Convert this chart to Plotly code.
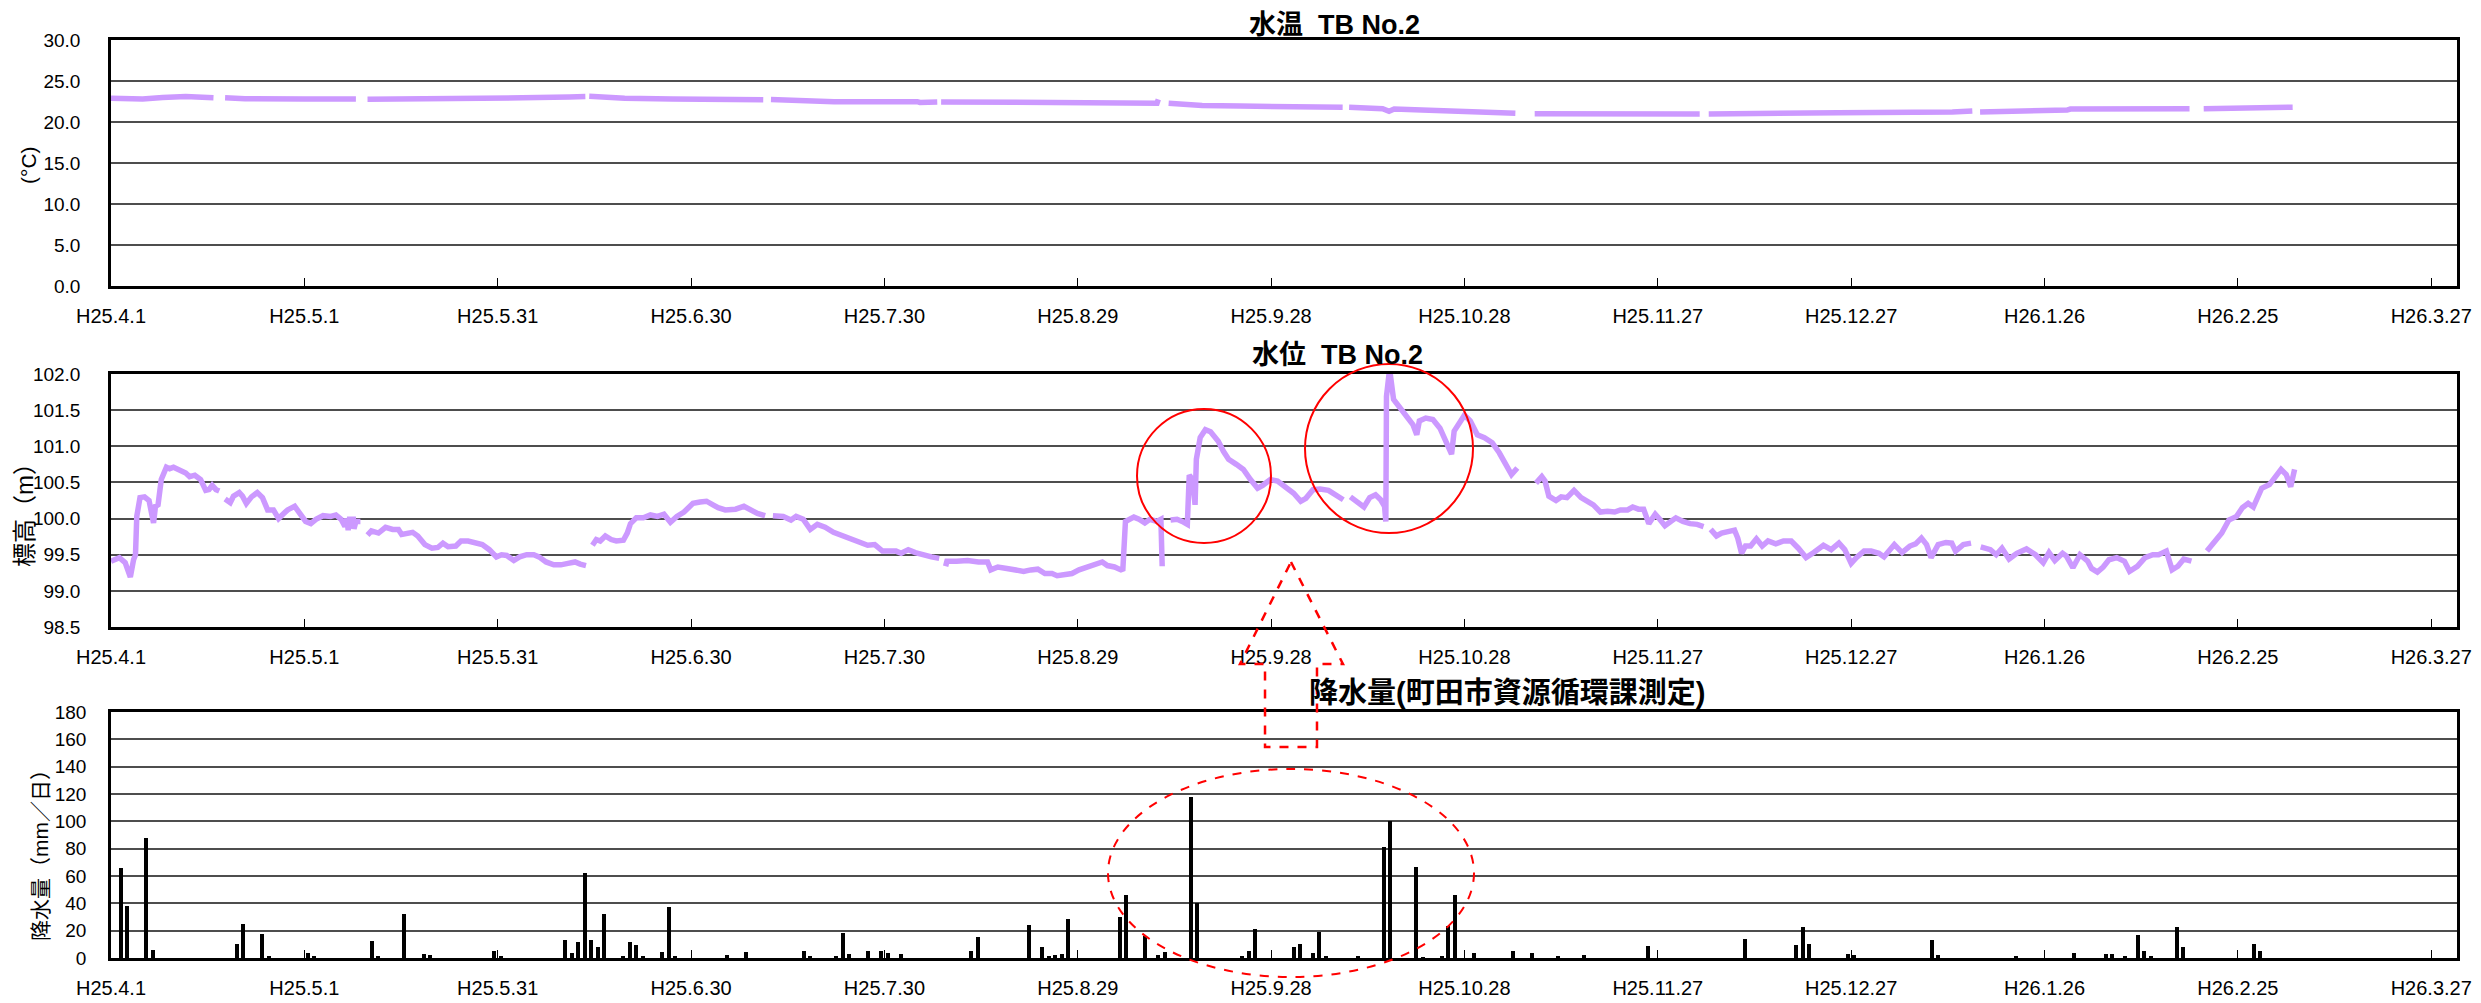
import pandas as pd
import plotly.graph_objects as go

# ---------------------------------------------------------------- data
START = pd.Timestamp("2013-04-01")

TICK_DATES = ["2013-04-01", "2013-05-01", "2013-05-31", "2013-06-30", "2013-07-30",
              "2013-08-29", "2013-09-28", "2013-10-28", "2013-11-27", "2013-12-27",
              "2014-01-26", "2014-02-25", "2014-03-27"]
TICK_TEXT = ["H25.4.1", "H25.5.1", "H25.5.31", "H25.6.30", "H25.7.30", "H25.8.29",
             "H25.9.28", "H25.10.28", "H25.11.27", "H25.12.27", "H26.1.26",
             "H26.2.25", "H26.3.27"]

# water temperature (days since H25.4.1, deg C); None = logger gap
TEMP_DAY = [0, 2, 4.9, 8, 11.6, 15.9, 16.8,
            17.7, 20.8, 30, 38.0, 38.9,
            39.8, 56.4, 63.8, 71.1, 73.6, 73.9,
            74.2, 76.5, 79.7, 87.1, 97.5, 98.1, 101.2, 101.8,
            102.4, 106.7, 112.2, 125.1, 125.5, 128.2, 128.5,
            128.8, 149.7, 150.3, 162.3, 162.5, 163.3,
            164.1, 166.8, 169.3, 175.2, 182.5, 191.1, 191.6,
            192.1, 197.3, 198.3, 199.1, 203.4, 208.3, 212.0, 215.7, 217.9, 219.4,
            220.9, 246.5, 247.2,
            247.9, 267.3, 268.0, 285.7, 288.8, 289.4,
            290.0, 294.9, 295.5, 303.5, 304.0, 313.3, 314.0, 322.5, 323.6,
            324.7, 331.1, 332.0, 338.5]
TEMP_C = [22.9, 22.85, 22.8, 23.0, 23.1, 22.95, None,
          22.95, 22.85, 22.82, 22.8, None,
          22.78, 22.82, 22.95, 23.05, 23.1, None,
          23.13, 23.0, 22.9, 22.82, 22.8, 22.7, 22.7, None,
          22.75, 22.6, 22.48, 22.48, 22.38, 22.45, None,
          22.45, 22.45, 22.35, 22.3, 22.75, None,
          22.3, 22.15, 22.0, 21.95, 21.87, 21.79, None,
          21.79, 21.63, 21.3, 21.58, 21.46, 21.34, 21.22, 21.06, 21.06, None,
          21.02, 20.98, None,
          20.98, 20.98, 21.14, 21.22, 21.34, None,
          21.22, 21.26, 21.38, 21.46, 21.58, 21.58, 21.67, 21.63, None,
          21.63, 21.65, 21.75, 21.8]

# water level (days since H25.4.1, elevation m); None = logger gap
LEVEL_DAY = [0.0, 1.3, 2.2, 3.0, 3.5, 3.8, 4.0, 4.5, 5.2, 5.9, 6.6, 6.9, 7.3, 7.8, 8.6,
             9.1, 9.7, 10.5, 11.6, 12.2, 13.0, 13.9, 14.7, 15.2, 15.7, 16.3, 16.8, 17.2,
             17.7, 18.5, 19.0, 19.9, 20.4, 21.0, 21.8, 22.7, 23.5, 24.3, 25.2, 26.0, 26.8,
             27.4, 28.5, 29.3, 30.2, 31.0, 31.8, 32.9, 34.1, 34.9, 35.7, 36.3, 36.6, 36.8,
             37.0, 37.6, 37.7, 38.0, 38.7, 39.2,
             39.8, 40.4, 41.5, 42.6, 43.7, 44.6, 45.1, 45.9, 46.8, 47.6, 48.7, 49.8, 50.7,
             51.5, 52.3, 53.5, 54.3, 55.4, 56.5, 57.6, 58.7, 59.8, 60.6, 61.4, 62.5, 63.4,
             64.5, 65.6, 66.4, 67.5, 68.7, 69.8, 70.9, 72.0, 72.8, 73.7, 74.2,
             74.7, 75.3, 75.9, 76.7, 77.6, 78.4, 79.5, 80.1, 80.6, 81.5, 82.6, 83.7, 84.8,
             85.8, 86.8, 87.8, 88.9, 89.7, 90.3, 91.4, 92.4, 93.4, 94.2, 95.3, 96.1, 96.9,
             98.2, 99.2, 100.3, 101.5, 102.1,
             102.7, 104.3, 105.5, 106.3, 107.4, 108.5, 109.6, 110.8, 112.1, 113.5, 114.9,
             116.3, 117.4, 118.5, 119.7, 120.7, 121.8, 122.6, 123.7, 124.8, 126.2, 127.3,
             128.5, 129.0,
             129.5, 129.7, 131.2, 132.9, 134.6, 136.0, 136.5, 137.6, 139.0, 140.4, 141.6,
             142.7, 143.8, 144.9, 146.0, 146.8, 147.9, 149.1, 150.2, 151.3, 152.4, 153.8,
             154.6, 155.7, 156.7, 157.0, 157.4, 157.9, 158.7, 159.5, 160.4, 161.2, 162.3,
             162.9, 163.1, 163.7,
             164.4, 165.4, 166.2, 167.0, 167.3, 167.8, 168.2, 168.4, 169.0, 169.8, 170.6,
             171.8, 172.6, 173.4, 174.6, 175.7, 176.8, 177.9, 178.7, 179.9, 181.0, 182.3,
             183.5, 184.6, 185.4, 186.5, 187.6, 188.9, 190.0, 191.2, 191.8,
             192.3, 193.4, 194.4, 195.3, 196.2, 197.0, 197.6, 197.8, 197.9, 198.3, 198.5,
             199.0, 199.8, 200.9, 202.0, 202.6, 203.0, 204.0, 205.1, 206.2, 207.3, 208.0,
             208.4, 209.2, 210.0, 210.9, 212.0, 213.1, 214.3, 215.4, 216.5, 217.3, 218.2,
             219.6,
             221.1, 222.0, 222.5, 223.1, 224.2, 225.0, 225.9, 227.0, 228.1, 229.2, 230.0,
             231.1, 232.2, 233.3, 234.2, 235.3, 236.1, 237.0, 237.8, 238.6, 239.6, 240.3,
             241.1, 242.0, 242.8, 243.9, 245.0, 246.1, 247.1, 247.6,
             248.2, 249.1, 249.9, 251.0, 251.9, 252.4, 253.0, 253.6, 254.4, 255.3, 256.2,
             257.1, 258.3, 259.5, 260.7, 261.8, 263.0, 264.2, 265.7, 266.9, 268.1, 269.0,
             270.0, 270.8, 272.0, 273.1, 274.3, 275.1, 276.7, 277.9, 279.1, 280.0, 280.9,
             281.7, 282.4, 283.5, 284.7, 285.6, 286.2, 287.4, 288.6, 289.3,
             290.1, 291.6, 292.5, 293.4, 294.5, 295.7, 297.2, 298.6, 299.8, 300.7, 301.6,
             302.8, 303.4, 304.4, 305.5, 306.7, 307.3, 308.2, 309.1, 310.0, 311.2, 312.4,
             313.2, 314.4, 315.6, 316.8, 317.7, 318.9, 319.8, 320.7, 321.6, 322.8, 324.0,
             325.2, 326.3, 327.5, 328.6, 329.8, 330.7, 331.6, 332.4, 332.8, 333.7, 334.9,
             335.8, 336.7, 337.5, 338.2, 338.8]
LEVEL_M = [99.41, 99.46, 99.39, 99.19, 99.43, 99.50, 100.03, 100.29, 100.30, 100.25, 99.94,
           100.17, 100.19, 100.54, 100.71, 100.69, 100.71, 100.68, 100.63, 100.58, 100.60,
           100.54, 100.39, 100.40, 100.46, 100.40, 100.38, None,
           100.27, 100.22, 100.31, 100.36, 100.31, 100.21, 100.30, 100.36, 100.29, 100.12,
           100.12, 100.00, 100.07, 100.12, 100.17, 100.08, 99.96, 99.93, 99.99, 100.04,
           100.03, 100.05, 99.99, 99.89, 100.00, 99.84, 99.99, 99.99, 99.86, 99.96, 99.96,
           None,
           99.77, 99.83, 99.80, 99.88, 99.85, 99.85, 99.78, 99.79, 99.81, 99.76, 99.64,
           99.59, 99.60, 99.66, 99.61, 99.62, 99.69, 99.69, 99.67, 99.64, 99.57, 99.47,
           99.50, 99.49, 99.42, 99.47, 99.50, 99.50, 99.47, 99.40, 99.36, 99.36, 99.38,
           99.40, 99.37, 99.35, None,
           99.63, 99.71, 99.69, 99.76, 99.71, 99.69, 99.70, 99.80, 99.93, 100.01, 100.01,
           100.05, 100.03, 100.06, 99.95, 100.03, 100.09, 100.15, 100.21, 100.23, 100.24,
           100.19, 100.15, 100.12, 100.13, 100.13, 100.17, 100.12, 100.07, 100.04, None,
           100.04, 100.03, 99.98, 100.03, 99.99, 99.85, 99.92, 99.88, 99.81, 99.76, 99.70,
           99.67, 99.63, 99.64, 99.55, 99.55, 99.55, 99.52, 99.57, 99.53, 99.49, 99.47,
           99.45, None,
           99.34, 99.41, 99.41, 99.42, 99.40, 99.40, 99.29, 99.33, 99.31, 99.29, 99.27,
           99.29, 99.30, 99.24, 99.24, 99.21, 99.22, 99.24, 99.29, 99.32, 99.36, 99.40,
           99.35, 99.33, 99.29, 99.30, 99.96, 99.99, 100.02, 99.99, 99.94, 99.99, 99.96,
           99.99, 99.34, None,
           99.98, 99.99, 99.96, 99.92, 100.60, 100.54, 100.19, 100.82, 101.12, 101.23,
           101.20, 101.07, 100.93, 100.82, 100.75, 100.68, 100.54, 100.42, 100.46, 100.54,
           100.52, 100.44, 100.35, 100.24, 100.28, 100.40, 100.41, 100.39, 100.33, 100.26,
           None,
           100.30, 100.22, 100.16, 100.29, 100.33, 100.26, 100.17, 99.96, 101.69, 102.00,
           101.99, 101.65, 101.55, 101.44, 101.30, 101.16, 101.35, 101.39, 101.37, 101.25,
           101.05, 100.89, 101.21, 101.32, 101.43, 101.35, 101.16, 101.12, 101.05, 100.91,
           100.72, 100.61, 100.70, None,
           100.49, 100.58, 100.52, 100.31, 100.25, 100.30, 100.29, 100.39, 100.29, 100.24,
           100.19, 100.09, 100.10, 100.09, 100.12, 100.12, 100.16, 100.13, 100.13, 99.93,
           100.06, 99.99, 99.90, 99.96, 100.01, 99.96, 99.93, 99.92, 99.89, None,
           99.85, 99.76, 99.80, 99.82, 99.84, 99.73, 99.52, 99.62, 99.62, 99.72, 99.62,
           99.69, 99.65, 99.69, 99.69, 99.59, 99.46, 99.53, 99.63, 99.57, 99.66, 99.57,
           99.38, 99.46, 99.55, 99.55, 99.52, 99.47, 99.64, 99.53, 99.62, 99.65, 99.73,
           99.64, 99.46, 99.64, 99.67, 99.66, 99.55, 99.64, 99.66, None,
           99.61, 99.57, 99.50, 99.59, 99.44, 99.52, 99.58, 99.50, 99.39, 99.53, 99.42,
           99.52, 99.48, 99.32, 99.50, 99.41, 99.31, 99.26, 99.33, 99.43, 99.46, 99.41,
           99.27, 99.34, 99.46, 99.50, 99.50, 99.55, 99.29, 99.34, 99.44, 99.41, None,
           99.55, 99.66, 99.80, 99.98, 100.03, 100.15, 100.21, 100.16, 100.24, 100.42,
           100.47, 100.59, 100.68, 100.61, 100.44, 100.68]

# daily precipitation (day index since H25.4.1, mm/day)
RAIN_DAY = [1, 2, 5, 6, 19, 20, 23, 24, 30, 31, 40, 41, 45, 48, 49, 59, 60,
            70, 71, 72, 73, 74, 75, 76, 79, 80, 81, 82, 85, 86, 87, 95, 98,
            107, 108, 112, 113, 114, 117, 119, 120, 122, 133, 134, 142, 144, 145,
            146, 147, 148, 156, 157, 160, 162, 163, 167, 168, 175, 176, 177, 183,
            184, 186, 187, 188, 193, 197, 198, 202, 203, 206, 207, 208, 211, 217,
            220, 224, 228, 238, 253, 261, 262, 263, 269, 270, 282, 283, 295, 304,
            309, 310, 312, 314, 315, 316, 320, 321, 332, 333]
RAIN_MM = [66, 38, 88, 6, 10.5, 25, 17.5, 1.2, 4, 1.7, 12.7, 1.7, 32.5, 3.2, 2, 5, 1.2,
           13, 3.7, 12, 62, 13.5, 8, 32.5, 1.2, 11.7, 9.3, 1.7, 4.4, 37.3, 1.7, 2.4, 4.4,
           5.4, 1.2, 1.2, 18, 2.9, 4.9, 5.4, 3.9, 2.9, 4.9, 15.6, 24.4, 7.8, 1.5,
           2.2, 2.7, 28.3, 30, 46, 16, 2, 4.4, 117.5, 40, 1, 4.9, 21, 8,
           10, 3.4, 19, 1.7, 1.7, 81, 100.5, 66.3, 0.7, 1.2, 23.7, 46, 3.9, 5.4,
           3.9, 1.5, 2.4, 8.8, 13.7, 9.3, 22.4, 10.5, 2.9, 2.4, 13.2, 2.4, 1, 3.4,
           2.7, 2.7, 1.5, 16.6, 4.9, 1.5, 22.4, 7.8, 10.5, 5.4]

# ---------------------------------------------------------------- figure
W, H = 2481, 1003
FONT = "Liberation Sans, Arial, Noto Sans CJK JP, sans-serif"
LAVENDER = "#CC99FF"


def px(x):
    return x / W


def py(y):
    return 1 - y / H


def day_to_date(days, offset_hours=0):
    return [START + pd.Timedelta(days=d) + pd.Timedelta(hours=offset_hours) for d in days]


fig = go.Figure()

fig.add_trace(go.Scatter(x=day_to_date(TEMP_DAY), y=TEMP_C, mode="lines",
                         line=dict(color=LAVENDER, width=5.5), connectgaps=False,
                         xaxis="x", yaxis="y", showlegend=False))
fig.add_trace(go.Scatter(x=day_to_date(LEVEL_DAY), y=LEVEL_M, mode="lines",
                         line=dict(color=LAVENDER, width=5.5), connectgaps=False,
                         xaxis="x2", yaxis="y2", showlegend=False))
fig.add_trace(go.Bar(x=day_to_date(RAIN_DAY, 12), y=RAIN_MM,
                     marker=dict(color="#000000", line=dict(width=0)),
                     width=0.62 * 86400000, xaxis="x3", yaxis="y3", showlegend=False))

x_domain = [px(111), px(2457)]
x_common = dict(type="date", range=["2013-04-01", "2014-03-31"],
                tickvals=TICK_DATES, ticktext=TICK_TEXT,
                ticks="inside", ticklen=8, tickwidth=1, tickcolor="#000000",
                showgrid=False, zeroline=False, showline=True, mirror=True,
                linecolor="#000000", linewidth=2.5, automargin=False,
                tickfont=dict(family=FONT, size=20, color="#000000"),
                ticklabelstandoff=10, domain=x_domain)
y_common = dict(showgrid=True, gridcolor="#4d4d4d", gridwidth=1.5, zeroline=False,
                showline=True, mirror=True, linecolor="#000000", linewidth=2.5,
                ticks="", automargin=False,
                tickfont=dict(family=FONT, size=19, color="#000000"),
                ticklabelstandoff=24)

fig.update_layout(
    width=W, height=H, margin=dict(l=0, r=0, t=0, b=0, autoexpand=False),
    paper_bgcolor="white", plot_bgcolor="white", bargap=0,
    xaxis=dict(x_common, anchor="y"),
    xaxis2=dict(x_common, anchor="y2"),
    xaxis3=dict(x_common, anchor="y3"),
    yaxis=dict(y_common, range=[0, 30], dtick=5, tickformat=".1f",
               domain=[py(286), py(40)], anchor="x"),
    yaxis2=dict(y_common, range=[98.5, 102.0], dtick=0.5, tickformat=".1f",
                domain=[py(627), py(374)], anchor="x2"),
    yaxis3=dict(y_common, range=[0, 180], dtick=20, tickformat="d",
                domain=[py(958), py(712)], anchor="x3", ticklabelstandoff=18),
)

# panel titles and axis titles
texts = [
    ("<b>水温 \u00a0TB No.2</b>", 1335, 25, 27, 0),
    ("<b>水位 \u00a0TB No.2</b>", 1337, 355, 27, 0),
    ("<b>降水量(町田市資源循環課測定)</b>", 1507, 693, 29, 0),
    ("(°C)", 28, 165, 21, -90),
    ("標高（m）", 24, 509, 24, -90),
    ("降水量（mm／日）", 40, 850, 21, -90),
]
for txt, x, y, size, ang in texts:
    fig.add_annotation(text=txt, x=px(x), y=py(y), xref="paper", yref="paper",
                       xanchor="center", yanchor="middle", showarrow=False,
                       textangle=ang, font=dict(family=FONT, size=size, color="#000000"))

# red highlight marks
RED = "#FF0000"
fig.add_shape(type="circle", xref="paper", yref="paper",
              x0=px(1137), x1=px(1271), y0=py(543), y1=py(409),
              line=dict(color=RED, width=2))
fig.add_shape(type="circle", xref="paper", yref="paper",
              x0=px(1305), x1=px(1473), y0=py(533), y1=py(364),
              line=dict(color=RED, width=2))
fig.add_shape(type="circle", xref="paper", yref="paper",
              x0=px(1108), x1=px(1474), y0=py(977), y1=py(769),
              line=dict(color=RED, width=2, dash="dash"))
arrow_pts = [(1291, 562), (1343, 664), (1317, 664), (1317, 747),
             (1265, 747), (1265, 664), (1240, 664)]
path = "M " + " L ".join(f"{px(x):.5f},{py(y):.5f}" for x, y in arrow_pts) + " Z"
fig.add_shape(type="path", xref="paper", yref="paper", path=path,
              line=dict(color=RED, width=2.5, dash="dash"))

fig.write_html("out.html")
